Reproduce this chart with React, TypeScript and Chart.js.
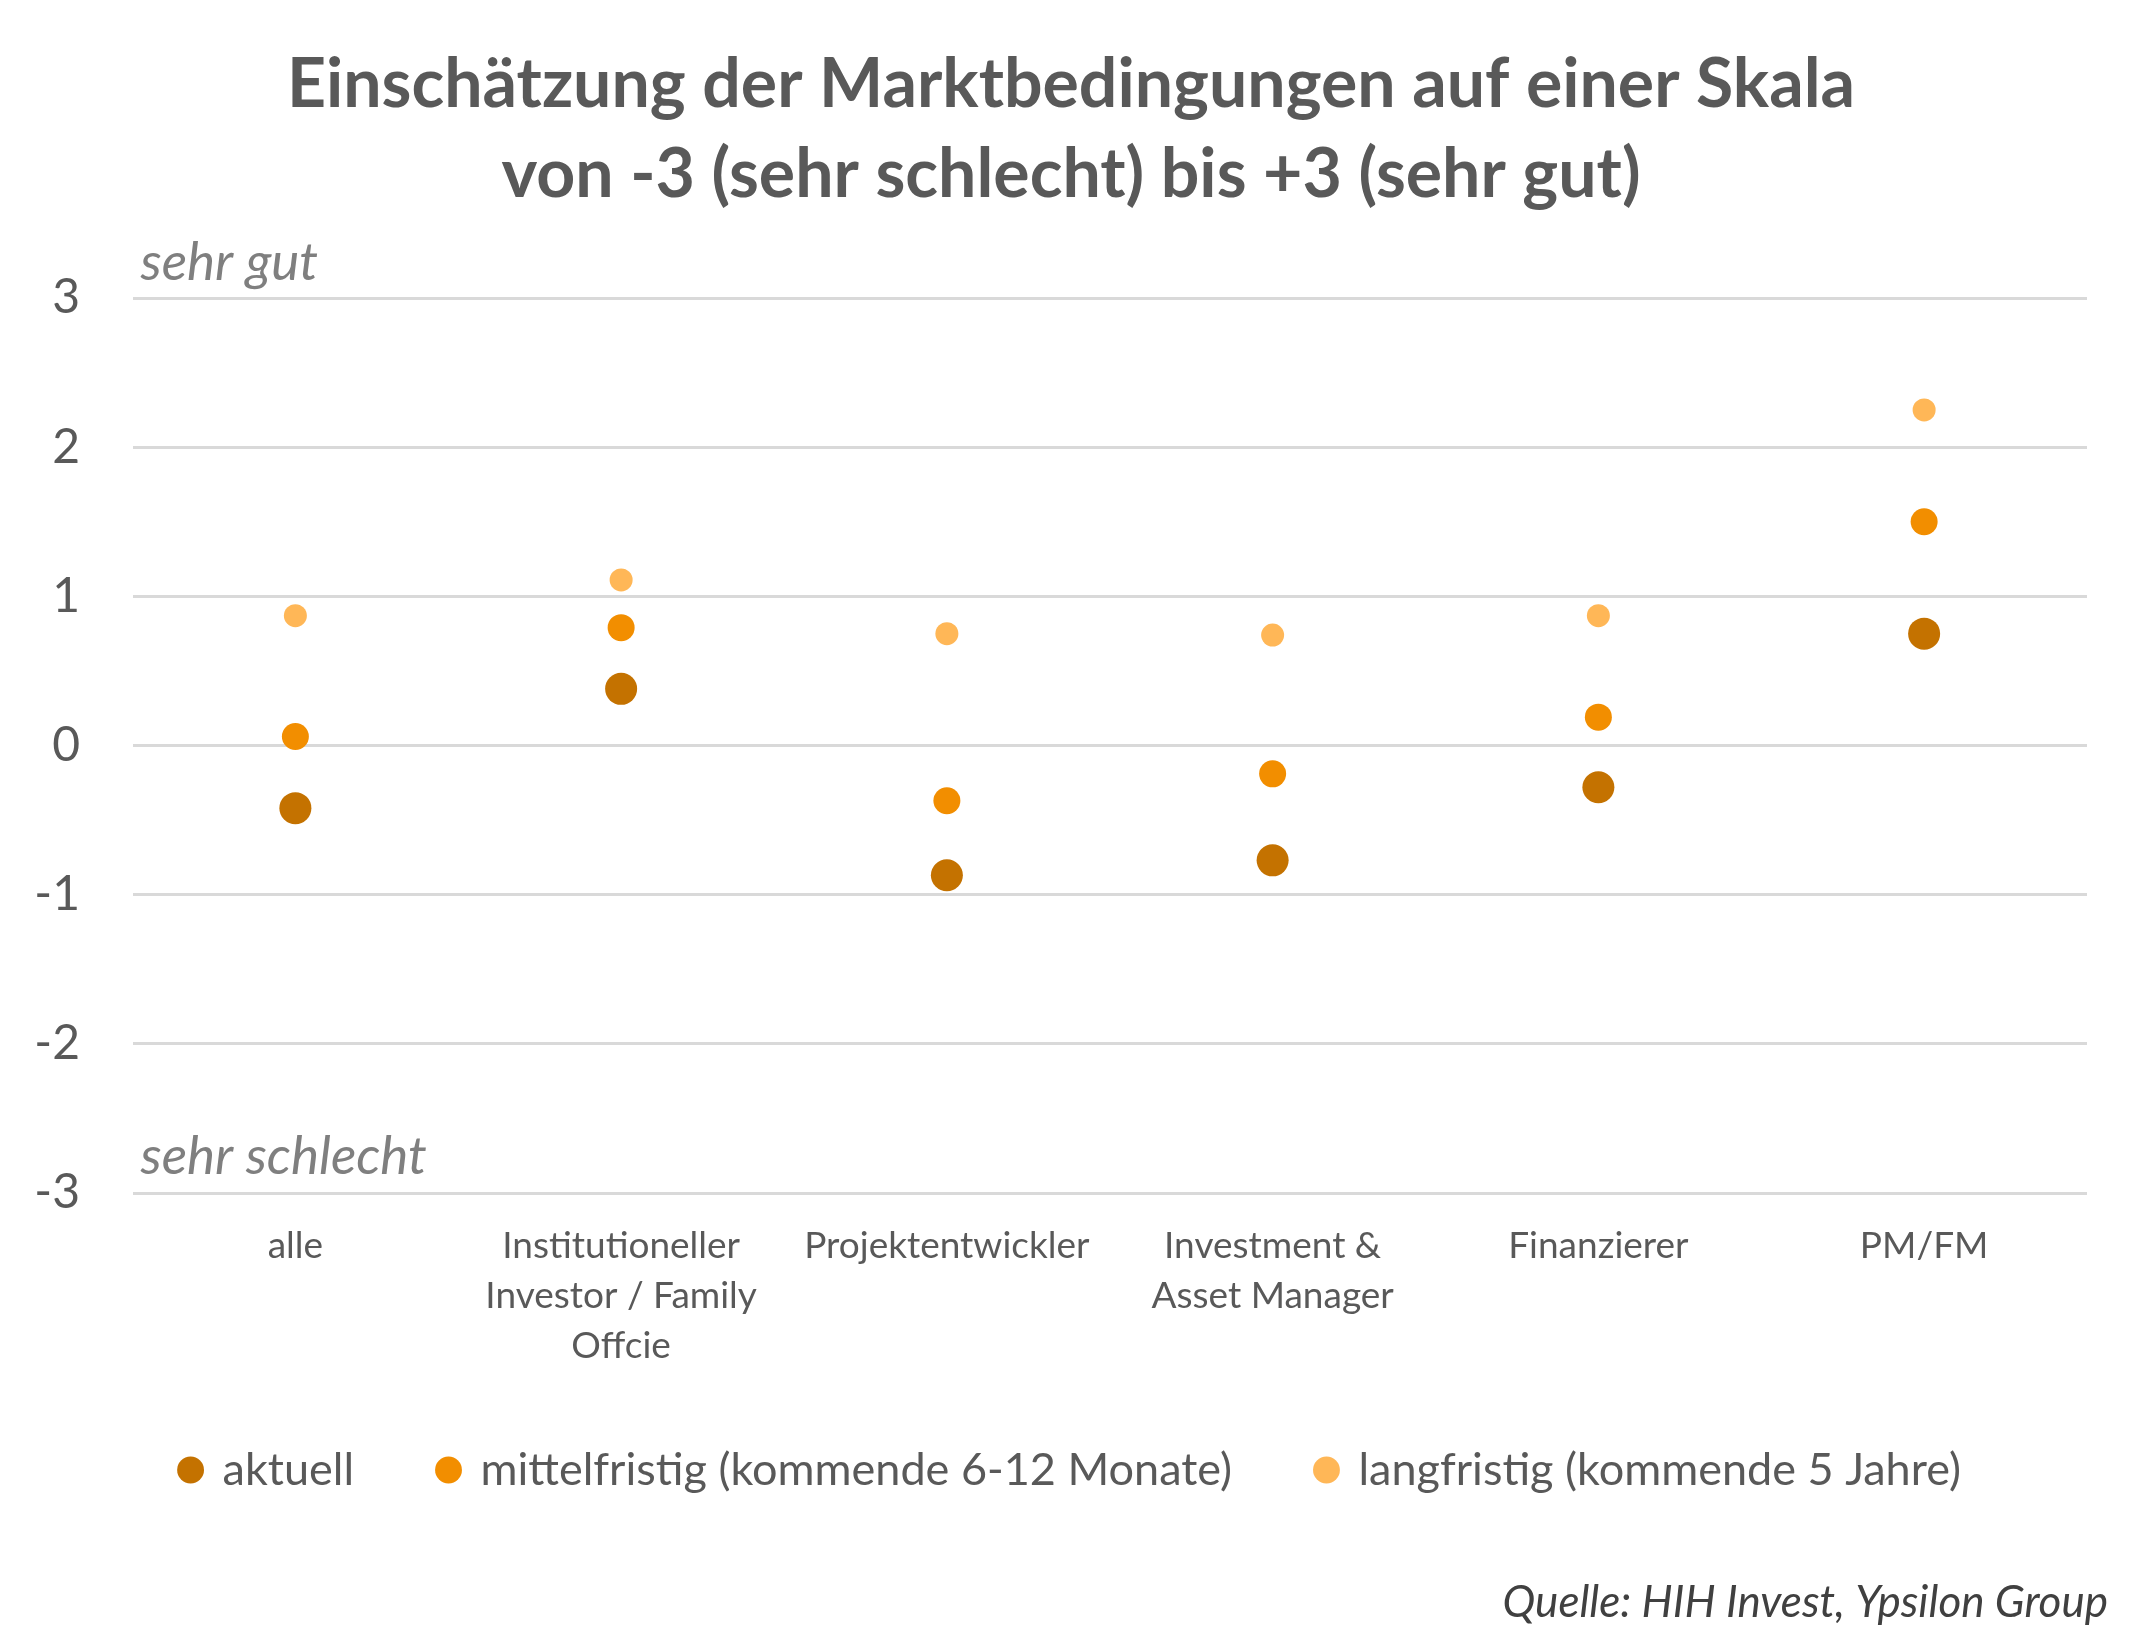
import { useEffect, useRef } from "react";
import { Chart, registerables } from "chart.js";

Chart.register(...registerables);

const titleLines = [
  "Einschätzung der Marktbedingungen auf einer Skala",
  "von -3 (sehr schlecht) bis +3 (sehr gut)",
];
const categories = [
  ["alle"],
  ["Institutioneller", "Investor / Family", "Offcie"],
  ["Projektentwickler"],
  ["Investment &", "Asset Manager"],
  ["Finanzierer"],
  ["PM/FM"],
];
const seriesNames = [
  "aktuell",
  "mittelfristig (kommende 6-12 Monate)",
  "langfristig (kommende 5 Jahre)",
];
const aktuell = [-0.42, 0.38, -0.87, -0.77, -0.28, 0.75];
const mittelfristig = [0.06, 0.79, -0.37, -0.19, 0.19, 1.5];
const langfristig = [0.87, 1.11, 0.75, 0.74, 0.87, 2.25];
const yMin = -3;
const yMax = 3;
const topNote = "sehr gut";
const bottomNote = "sehr schlecht";
const sourceText = "Quelle: HIH Invest, Ypsilon Group";

const FONT = "Lato, 'Open Sans', sans-serif";

const notesPlugin = {
  id: "notes",
  afterDraw(chart: any) {
    const { ctx, chartArea, scales } = chart;
    const y = scales.y;
    ctx.save();
    ctx.font = `italic 53px ${FONT}`;
    ctx.fillStyle = "#7f7f7f";
    ctx.textAlign = "left";
    ctx.textBaseline = "alphabetic";
    ctx.fillText(topNote, chartArea.left + 8, y.getPixelForValue(yMax) - 18);
    ctx.fillText(bottomNote, chartArea.left + 8, y.getPixelForValue(yMin) - 19);
    ctx.font = `italic 44px ${FONT}`;
    ctx.fillStyle = "#404040";
    ctx.textAlign = "right";
    ctx.fillText(sourceText, 2108, 1617);
    ctx.restore();
  },
};

export default function App() {
  const ref = useRef<HTMLCanvasElement | null>(null);
  useEffect(() => {
    if (!ref.current) return;
    const legendFont = 45;
    const legendPad = 85;
    const legendCenter = 1470;
    const chartBottom = 1193;
    const legendTop = legendCenter - legendFont / 2 - legendPad;
    const chart = new Chart(ref.current, {
      type: "line",
      data: {
        labels: categories as any,
        datasets: [
          {
            label: seriesNames[0],
            data: aktuell,
            showLine: false,
            backgroundColor: "#C47200",
            borderColor: "#C47200",
            pointRadius: 16,
            pointBorderWidth: 0,
            pointStyle: "circle",
          },
          {
            label: seriesNames[1],
            data: mittelfristig,
            showLine: false,
            backgroundColor: "#F28E00",
            borderColor: "#F28E00",
            pointRadius: 13.5,
            pointBorderWidth: 0,
            pointStyle: "circle",
          },
          {
            label: seriesNames[2],
            data: langfristig,
            showLine: false,
            backgroundColor: "#FFB757",
            borderColor: "#FFB757",
            pointRadius: 11.5,
            pointBorderWidth: 0,
            pointStyle: "circle",
          },
        ],
      },
      options: {
        animation: false,
        responsive: true,
        maintainAspectRatio: false,
        layout: {
          padding: { left: 0, right: 0, top: 0, bottom: 1651 - (legendCenter + legendFont / 2 + 10) },
        },
        plugins: {
          title: {
            display: true,
            text: titleLines,
            color: "#595959",
            font: { family: FONT, size: 68, weight: "bold", lineHeight: 90 / 68 },
            padding: { top: 40, bottom: 78 },
          },
          legend: {
            position: "bottom",
            labels: {
              usePointStyle: true,
              pointStyle: "circle",
              boxWidth: 19,
              boxHeight: 19,
              padding: legendPad,
              color: "#595959",
              font: { family: FONT, size: legendFont },
            },
          },
          tooltip: { enabled: false },
        },
        scales: {
          x: {
            type: "category",
            offset: true,
            grid: { display: false, drawTicks: false },
            border: { display: false },
            ticks: {
              color: "#595959",
              padding: 28,
              maxRotation: 0,
              autoSkip: false,
              font: { family: FONT, size: 37, lineHeight: 50 / 37 },
            },
            afterFit: (scale: any) => {
              scale.height = legendTop - chartBottom;
            },
          },
          y: {
            min: yMin,
            max: yMax,
            grid: { color: "#d9d9d9", lineWidth: 3, drawTicks: false },
            border: { display: false },
            ticks: {
              stepSize: 1,
              color: "#595959",
              padding: 52.5,
              font: { family: FONT, size: 48 },
            },
            afterFit: (scale: any) => {
              scale.width = 132.5;
            },
          },
          yRightSpace: {
            position: "right",
            display: true,
            grid: { display: false, drawTicks: false },
            border: { display: false },
            ticks: { display: false },
            afterFit: (scale: any) => {
              scale.width = 55;
            },
          },
        },
      },
      plugins: [notesPlugin],
    });
    return () => chart.destroy();
  }, []);
  return (
    <div style={{ position: "fixed", left: 0, top: 0, width: 2142, height: 1651, background: "#fff" }}>
      <canvas ref={ref} />
    </div>
  );
}
